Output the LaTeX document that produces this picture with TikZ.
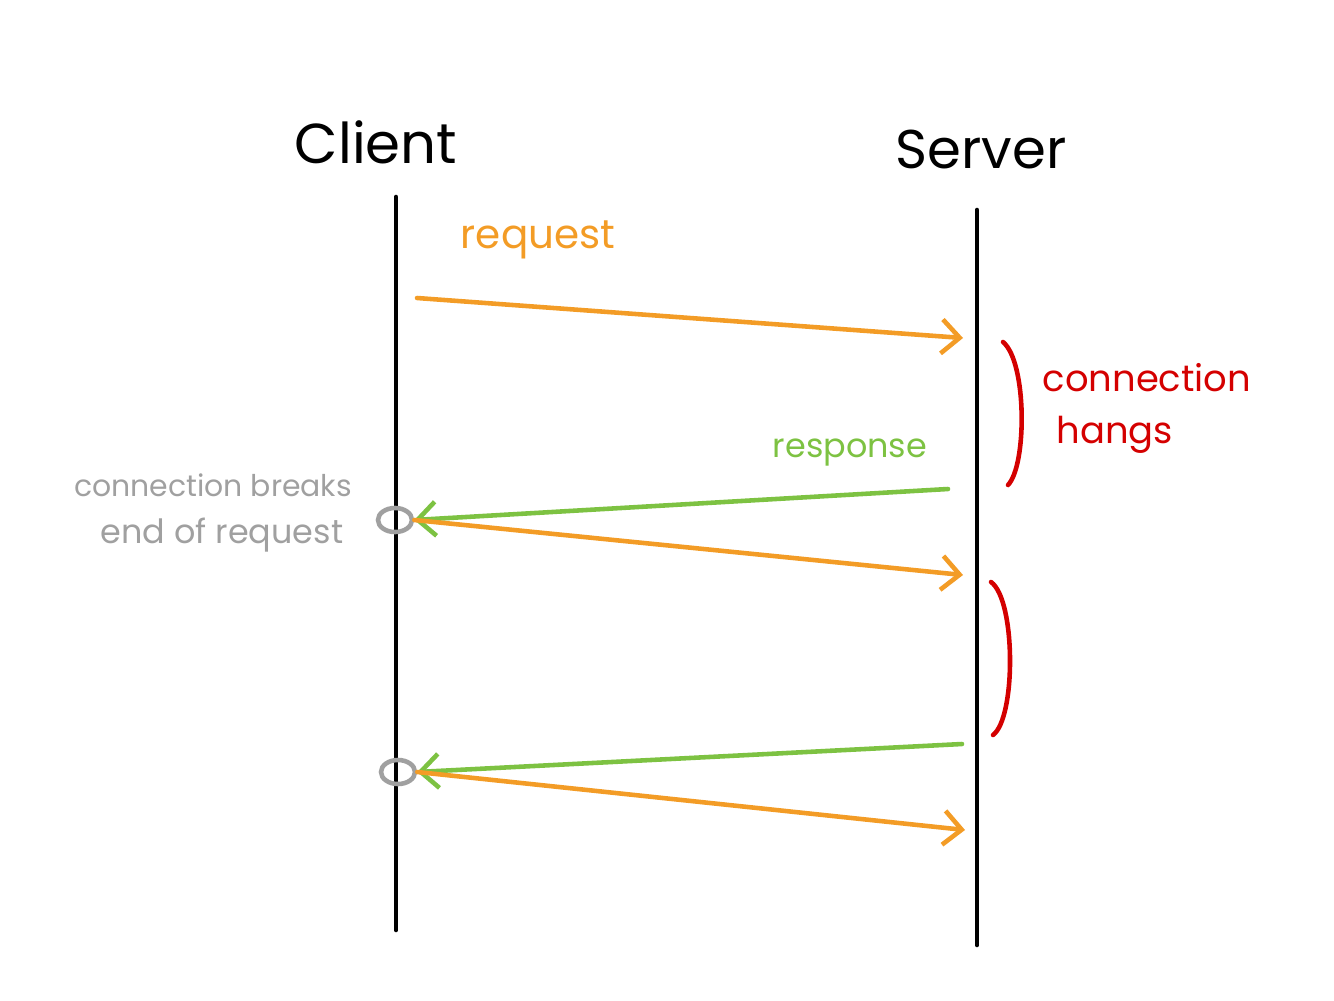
\documentclass[tikz,border=0pt]{standalone}
\usepackage{fontspec}
\setmainfont{Poppins}
\usetikzlibrary{arrows.meta,shapes.geometric}
\definecolor{reqorange}{HTML}{F39C26}
\definecolor{resgreen}{HTML}{7DC242}
\definecolor{hangred}{HTML}{D40000}
\definecolor{notegray}{HTML}{A0A0A0}

\begin{document}
\begin{tikzpicture}[x=0.01cm, y=-0.01cm, every node/.style={inner sep=0pt},
	life/.style={line width=1.3pt, line cap=round},
	msg/.style={line width=1.3pt, line cap=round, -{Straight Barb[length=1.8mm,width=3.4mm]}},
	hang/.style={hangred, line width=1.3pt, line cap=round},
	brk/.style={draw=notegray, line width=1.3pt, ellipse, minimum width=0.34cm, minimum height=0.24cm}]
	\useasboundingbox (0,0) rectangle (1334,1000);
	% lifelines
	\node (client) at (376,142) {\fontsize{16}{18}\selectfont Client};
	\node (server) at (981,150) {\fontsize{15.5}{17}\selectfont Server};
	\coordinate (c1) at (396,197); \coordinate (c2) at (396,930);
	\coordinate (s1) at (977,210); \coordinate (s2) at (977,945);
	\draw[life] (c1) -- (c2);
	\draw[life] (s1) -- (s2);
	% messages
	\node[brk] (brk1) at (395,520) {};
	\node[brk] (brk2) at (398,772) {};
	\coordinate (r1) at (417,298); \coordinate (r1e) at (963,338);
	\coordinate (a1) at (948,489);
	\coordinate (r2e) at (963,575);
	\coordinate (a2) at (962,744);
	\coordinate (r3e) at (965,830);
	\draw[msg, reqorange] (r1) -- (r1e);
	\draw[msg, resgreen] (a1) -- (brk1.east);
	\draw[msg, reqorange] (brk1.east) -- (r2e);
	\draw[msg, resgreen] (a2) -- (brk2.east);
	\draw[msg, reqorange] (brk2.east) -- (r3e);
	\node[reqorange] (reqlbl) at (538,240) {\fontsize{11.5}{13}\selectfont request};
	\node[resgreen] (reslbl) at (850,453) {\fontsize{9.5}{11}\selectfont response};
	% hangs
	\coordinate (h1) at (1003,342); \coordinate (h1e) at (1008,485);
	\coordinate (h2) at (991,582); \coordinate (h2e) at (993,735);
	\draw[hang] (h1) .. controls (1027,362) and (1027,465) .. (h1e);
	\draw[hang] (h2) .. controls (1016,600) and (1016,718) .. (h2e);
	\node[hangred, anchor=west] (hanglbl) at (1042,378) {\fontsize{10.5}{12}\selectfont connection};
	\node[hangred, anchor=west] (hanglbl2) at (1056,435) {\fontsize{10.5}{12}\selectfont hangs};
	% breaks
	\node[notegray] (brklbl) at (213,485) {\fontsize{8.5}{10}\selectfont connection breaks};
	\node[notegray] (brklbl2) at (222,535) {\fontsize{9.5}{11}\selectfont end of request};
\end{tikzpicture}
\end{document}
